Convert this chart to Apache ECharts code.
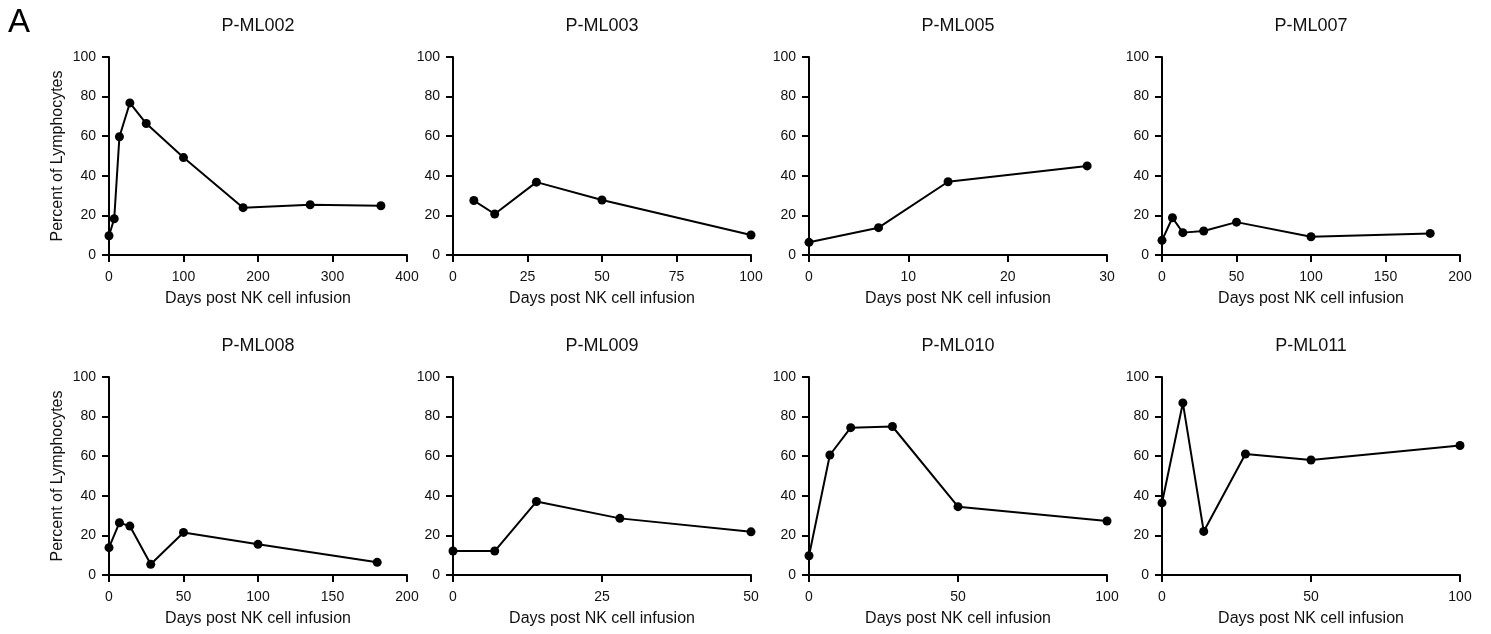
<!DOCTYPE html>
<html>
<head>
<meta charset="utf-8">
<title>NK cell infusion</title>
<script src="https://cdn.jsdelivr.net/npm/echarts@6/dist/echarts.min.js"></script>
<style>
  html, body { margin: 0; padding: 0; background: #fff; }
  #main { width: 1491px; height: 634px; }
</style>
<script type="text/javascript">
	// patients and their data (days post infusion / percent of lymphocytes)
	var patients = ['P-ML002', 'P-ML003', 'P-ML005', 'P-ML007', 'P-ML008', 'P-ML009', 'P-ML010', 'P-ML011'];

	var days002 = [0, 7, 14, 28, 50, 100, 180, 270, 365];
	var pct002  = [9.7, 18.3, 59.7, 76.8, 66.4, 49.2, 23.9, 25.4, 24.9];

	var days003 = [7, 14, 28, 50, 100];
	var pct003  = [27.5, 20.7, 36.8, 27.8, 10.1];

	var days005 = [0, 7, 14, 28];
	var pct005  = [6.4, 13.8, 37.0, 45.0];

	var days007 = [0, 7, 14, 28, 50, 100, 180];
	var pct007  = [7.4, 18.8, 11.3, 12.1, 16.6, 9.2, 10.9];

	var days008 = [0, 7, 14, 28, 50, 100, 180];
	var pct008  = [13.8, 26.4, 24.7, 5.4, 21.5, 15.5, 6.4];

	var days009 = [0, 7, 14, 28, 50];
	var pct009  = [12.1, 12.1, 37.1, 28.6, 21.8];

	var days010 = [0, 7, 14, 28, 50, 100];
	var pct010  = [9.7, 60.6, 74.4, 75.0, 34.5, 27.3];

	var days011 = [0, 7, 14, 28, 50, 100];
	var pct011  = [36.4, 86.9, 22.0, 61.1, 58.1, 65.4];

	var allDays = [days002, days003, days005, days007, days008, days009, days010, days011];
	var allPct  = [pct002, pct003, pct005, pct007, pct008, pct009, pct010, pct011];

	// x axis ranges per panel
	var xMax      = [400, 100, 30, 200, 200, 50, 100, 100];
	var xInterval = [100, 25, 10, 50, 50, 25, 50, 50];
	var yTicks    = [0, 20, 40, 60, 80, 100];

	var xName = 'Days post NK cell infusion';
	var yName = 'Percent of Lymphocytes';

	window.onload = function () {
		var myChart = echarts.init(document.getElementById('main'));

		var colLeft = [109, 453, 809, 1162];
		var rowTop = [57, 377];
		var gw = 298, gh = 198;
		var font = 'Liberation Sans, Arial, Helvetica, sans-serif';

		var grids = [], xAxes = [], yAxes = [], series = [];
		var titles = [{
			text: 'A', left: 8, top: 6, padding: 0,
			textStyle: { fontSize: 33, fontWeight: 'normal', color: '#000', fontFamily: font }
		}];

		for (var i = 0; i < patients.length; i++) {
			var col = i % 4, row = Math.floor(i / 4);
			grids.push({ left: colLeft[col], top: rowTop[row], width: gw, height: gh });

			titles.push({
				text: patients[i],
				left: colLeft[col] + gw / 2,
				top: rowTop[row] - 40,
				textAlign: 'center',
				padding: 0,
				textStyle: { fontSize: 18, fontWeight: 'normal', color: '#111', fontFamily: font }
			});

			xAxes.push({
				gridIndex: i,
				type: 'value',
				min: 0,
				max: xMax[i],
				interval: xInterval[i],
				name: xName,
				nameLocation: 'middle',
				nameGap: 36,
				nameTextStyle: { fontSize: 16, color: '#111', fontFamily: font },
				axisLine: { onZero: false, lineStyle: { color: '#000', width: 2 } },
				axisTick: { show: true, inside: false, length: 7, lineStyle: { color: '#000', width: 2 } },
				axisLabel: { fontSize: 14, color: '#111', margin: 15, fontFamily: font },
				splitLine: { show: false }
			});

			yAxes.push({
				gridIndex: i,
				type: 'value',
				min: yTicks[0],
				max: yTicks[yTicks.length - 1],
				interval: 20,
				name: col === 0 ? yName : '',
				nameLocation: 'middle',
				nameGap: 43,
				nameTextStyle: { fontSize: 16, color: '#111', fontFamily: font },
				axisLine: { show: true, onZero: false, lineStyle: { color: '#000', width: 2 } },
				axisTick: { show: true, inside: false, length: 7, lineStyle: { color: '#000', width: 2 } },
				axisLabel: { fontSize: 14, color: '#111', margin: 13, fontFamily: font },
				splitLine: { show: false }
			});

			var pts = [];
			for (var k = 0; k < allDays[i].length; k++) {
				pts.push([allDays[i][k], allPct[i][k]]);
			}
			series.push({
				name: patients[i],
				type: 'line',
				xAxisIndex: i,
				yAxisIndex: i,
				data: pts,
				symbol: 'circle',
				symbolSize: 9,
				showAllSymbol: true,
				clip: false,
				itemStyle: { color: '#000' },
				lineStyle: { color: '#000', width: 2 },
				z: 5
			});
		}

		var option = {
			backgroundColor: '#fff',
			animation: false,
			title: titles,
			grid: grids,
			xAxis: xAxes,
			yAxis: yAxes,
			series: series
		};

		myChart.setOption(option);
	};
</script>
</head>
<body>
<div id="main"></div>
</body>
</html>
